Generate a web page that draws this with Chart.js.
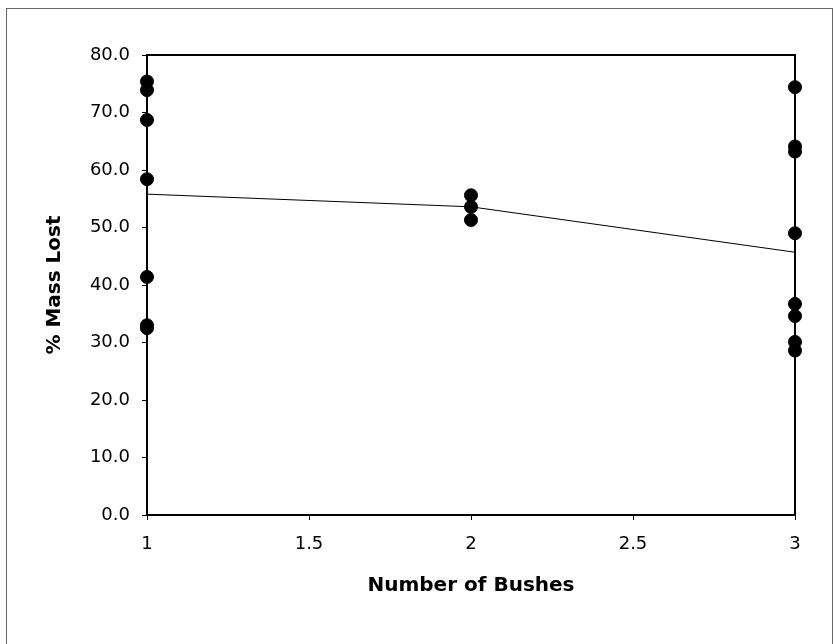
<!DOCTYPE html>
<html>
<head>
<meta charset="utf-8">
<script src="https://cdn.jsdelivr.net/npm/chart.js@4"></script>
<style>
  body { margin: 0; background: #fff; }
  canvas { display: block; }
</style>
</head>
<body>
<canvas id="chartMasa" width="834" height="644"></canvas>
<script>
// valores
const numBushes = [1, 2, 3];
const massLost1 = [75.4, 73.9, 68.7, 58.4, 41.4, 33.0, 32.5];
const massLost2 = [55.6, 53.6, 51.3];
const massLost3 = [74.4, 64.1, 63.2, 49.0, 36.7, 34.6, 30.1, 28.6];
const trendLine = [55.8, 53.6, 45.7];
const yTicks = [0, 10, 20, 30, 40, 50, 60, 70, 80];
const xTicks = [1, 1.5, 2, 2.5, 3];

const groups = [massLost1, massLost2, massLost3];
const puntos = [];
groups.forEach((vals, i) => {
  vals.forEach(v => puntos.push({ x: numBushes[i], y: v }));
});
const linea = numBushes.map((x, i) => ({ x: x, y: trendLine[i] }));

const marcos = {
  id: 'marcos',
  beforeDraw(chart) {
    const ctx = chart.ctx;
    ctx.save();
    ctx.fillStyle = '#fff';
    ctx.fillRect(0, 0, chart.width, chart.height);
    ctx.strokeStyle = '#666';
    ctx.lineWidth = 1;
    ctx.strokeRect(6.5, 8.5, 826, 700);
    ctx.restore();
  },
  beforeDatasetsDraw(chart) {
    const a = chart.chartArea;
    const ctx = chart.ctx;
    ctx.save();
    ctx.strokeStyle = '#000';
    ctx.lineWidth = 2;
    ctx.strokeRect(a.left, a.top, a.right - a.left, a.bottom - a.top);
    ctx.restore();
  }
};

const tickFont = { family: 'DejaVu Sans', size: 18 };
const titleFont = { family: 'DejaVu Sans', size: 20, weight: 'bold' };

new Chart(document.getElementById('chartMasa').getContext('2d'), {
  type: 'scatter',
  data: {
    datasets: [
      {
        label: '% Mass Lost',
        data: puntos,
        backgroundColor: '#000',
        borderColor: '#000',
        pointRadius: 6.5,
        pointHoverRadius: 6.5,
        clip: false
      },
      {
        label: 'Mean',
        data: linea,
        showLine: true,
        borderColor: '#000',
        borderWidth: 1,
        pointRadius: 0,
        fill: false,
        clip: false
      }
    ]
  },
  options: {
    responsive: false,
    animation: false,
    layout: { padding: { top: 55, right: 39, left: 0, bottom: 0 } },
    plugins: {
      legend: { display: false },
      tooltip: { enabled: false }
    },
    scales: {
      x: {
        type: 'linear',
        min: 1,
        max: 3,
        afterBuildTicks: s => { s.ticks = xTicks.map(v => ({ value: v })); },
        afterFit: s => { s.height = 129; },
        ticks: { color: '#000', font: tickFont, padding: 14, callback: v => String(v), maxRotation: 0 },
        grid: { display: true, drawOnChartArea: false, drawTicks: true, tickLength: 5, color: '#000', lineWidth: 1 },
        border: { display: false },
        title: { display: true, text: 'Number of Bushes', color: '#000', font: titleFont, padding: { top: 0, bottom: 46 } }
      },
      y: {
        min: 0,
        max: 80,
        afterBuildTicks: s => { s.ticks = yTicks.map(v => ({ value: v })); },
        afterFit: s => { s.width = 147; },
        ticks: { color: '#000', font: tickFont, padding: 12, callback: v => Number(v).toFixed(1) },
        grid: { display: true, drawOnChartArea: false, drawTicks: true, tickLength: 5, color: '#000', lineWidth: 1 },
        border: { display: false },
        title: { display: true, text: '% Mass Lost', color: '#000', font: titleFont, padding: { top: 43, bottom: 0 } }
      }
    }
  },
  plugins: [marcos]
});
</script>
</body>
</html>
